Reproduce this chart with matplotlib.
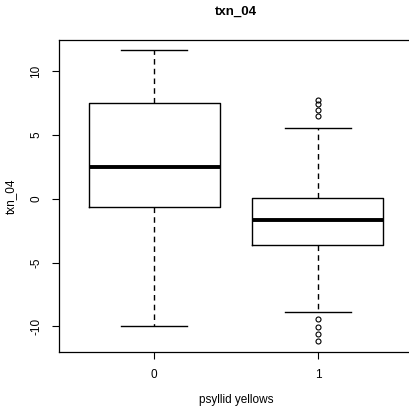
import matplotlib.pyplot as plt

plt.rcParams['font.family'] = ['Liberation Sans', 'DejaVu Sans']

groups = ['0', '1']
q1 = [-0.63, -3.6]
med = [2.5, -1.65]
q3 = [7.55, 0.08]
whislo = [-10.0, -8.86]
whishi = [11.7, 5.57]
fliers = [[], [7.76, 7.45, 6.98, 6.51, -9.41, -10.04, -10.59, -11.14]]

stats = []
for i in range(len(groups)):
    stats.append(dict(label=groups[i], q1=q1[i], med=med[i], q3=q3[i],
                      whislo=whislo[i], whishi=whishi[i], fliers=fliers[i]))

fig = plt.figure(figsize=(4.1, 4.12), dpi=100)
ax = fig.add_axes([0.144, 0.146, 0.863, 0.757])

ax.bxp(stats, positions=[1, 2], widths=0.8, patch_artist=False,
       boxprops=dict(color='black', linewidth=1),
       medianprops=dict(color='black', linewidth=2.8),
       whiskerprops=dict(color='black', linewidth=1, linestyle=(0, (4, 3))),
       capprops=dict(color='black', linewidth=1),
       capwidths=0.4,
       flierprops=dict(marker='o', markersize=3.6, markerfacecolor='none',
                       markeredgecolor='black', markeredgewidth=0.8))

ax.set_xlim(0.42, 2.58)
ax.set_ylim(-12.0, 12.47)
ax.set_yticks([-10, -5, 0, 5, 10])
ax.set_yticklabels(['-10', '-5', '0', '5', '10'], rotation=90, va='center')
ax.set_xticks([1, 2])
ax.set_xticklabels(groups)
ax.tick_params(labelsize=8.5, length=5, width=0.8, pad=7)
for s in ax.spines.values():
    s.set_linewidth(0.9)
ax.spines['right'].set_visible(False)  # cut off in the reference

ax.set_title('txn_04', fontsize=9.5, fontweight='bold', pad=18)
ax.set_xlabel('psyllid yellows', fontsize=8.5, labelpad=10)
ax.set_ylabel('txn_04', fontsize=8.5, labelpad=10)

fig.savefig('out.png', dpi=100)
